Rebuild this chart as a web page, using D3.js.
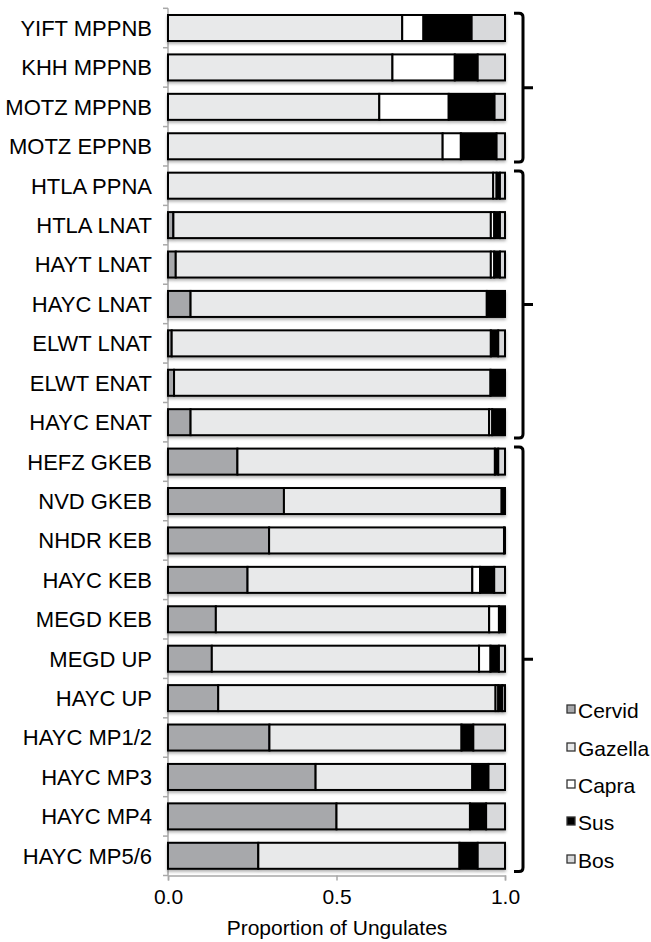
<!DOCTYPE html>
<html><head><meta charset="utf-8">
<script src="https://cdn.jsdelivr.net/npm/d3@7"></script>
<style>
body{margin:0;background:#fff;}
text{font-family:"Liberation Sans",Arial,Helvetica,sans-serif;fill:#000;}
</style></head>
<body>
<svg id="chart" width="651" height="942"></svg>
<script>
const sites = ["YIFT MPPNB","KHH MPPNB","MOTZ MPPNB","MOTZ EPPNB","HTLA PPNA","HTLA LNAT","HAYT LNAT","HAYC LNAT","ELWT LNAT","ELWT ENAT","HAYC ENAT","HEFZ GKEB","NVD GKEB","NHDR KEB","HAYC KEB","MEGD KEB","MEGD UP","HAYC UP","HAYC MP1/2","HAYC MP3","HAYC MP4","HAYC MP5/6"];
const taxa = ["Cervid","Gazella","Capra","Sus","Bos"];
const cervid  = [0.000,0.000,0.000,0.000,0.000,0.016,0.023,0.067,0.011,0.018,0.067,0.206,0.344,0.300,0.236,0.142,0.130,0.149,0.301,0.438,0.500,0.268];
const gazella = [0.695,0.666,0.627,0.815,0.965,0.942,0.935,0.879,0.947,0.939,0.886,0.764,0.646,0.697,0.667,0.811,0.793,0.823,0.570,0.465,0.396,0.597];
const capra   = [0.063,0.185,0.206,0.054,0.010,0.010,0.010,0.000,0.000,0.000,0.009,0.000,0.000,0.000,0.023,0.029,0.034,0.008,0.000,0.000,0.000,0.000];
const sus     = [0.143,0.068,0.136,0.106,0.010,0.017,0.017,0.054,0.022,0.043,0.038,0.010,0.010,0.003,0.042,0.018,0.025,0.012,0.035,0.048,0.048,0.054];
const bos     = [0.099,0.081,0.031,0.025,0.015,0.015,0.015,0.000,0.020,0.000,0.000,0.020,0.000,0.000,0.032,0.000,0.018,0.008,0.094,0.049,0.056,0.081];
const xTicks = [0, 0.5, 1.0];
const xTickLabels = ["0.0","0.5","1.0"];
const groups = [{start:0,end:3},{start:4,end:10},{start:11,end:21}];
const colors = {Cervid:"#a7a8ab",Gazella:"#e8e9ea",Capra:"#ffffff",Sus:"#000000",Bos:"#d8d9db"};
const series = {Cervid:cervid,Gazella:gazella,Capra:capra,Sus:sus,Bos:bos};

const svg = d3.select("#chart");
const defs = svg.append("defs");
const f = defs.append("filter").attr("id","sh").attr("x","-5%").attr("y","-30%").attr("width","110%").attr("height","170%");
f.append("feDropShadow").attr("dx",0).attr("dy",2).attr("stdDeviation",1.6).attr("flood-color","#000").attr("flood-opacity",0.3);

const x = d3.scaleLinear().domain([0,1]).range([168,505]);
const y = d3.scaleBand().domain(sites).range([8.3,875.5]).paddingInner(0.34).paddingOuter(0.17);

const rows = sites.map((s,i)=>{ const r={site:s}; taxa.forEach(t=>r[t]=series[t][i]); return r; });
const stacked = d3.stack().keys(taxa)(rows);

// left axis (category boundaries)
const step = y.step();
const y0 = y.range()[0];
const gy = svg.append("g");
gy.append("line").attr("x1",168).attr("x2",168).attr("y1",y0).attr("y2",y0+step*sites.length).attr("stroke","#a8a8a8").attr("stroke-width",1.5);
d3.range(sites.length+1).forEach(k=>{
  gy.append("line").attr("x1",163).attr("x2",168).attr("y1",y0+k*step).attr("y2",y0+k*step).attr("stroke","#a8a8a8").attr("stroke-width",1.5);
});
gy.selectAll("text.lab").data(sites).enter().append("text").attr("class","lab")
  .attr("x",152).attr("y",d=>y(d)+y.bandwidth()/2).attr("dy","0.36em")
  .attr("text-anchor","end").attr("font-size",22).text(d=>d);

// bottom axis
const axisY = y0+step*sites.length;
const gx = svg.append("g").attr("transform",`translate(0,${axisY})`)
  .call(d3.axisBottom(x).tickValues(xTicks).tickFormat((d,i)=>xTickLabels[i]).tickSize(5).tickPadding(9));
gx.select(".domain").attr("stroke","#a8a8a8").attr("stroke-width",1.5);
gx.selectAll(".tick line").attr("stroke","#a8a8a8").attr("stroke-width",1.5);
gx.selectAll(".tick text").attr("font-size",21).attr("font-family","Liberation Sans, Arial, sans-serif").attr("fill","#000");
svg.append("text").attr("x",337).attr("y",935).attr("text-anchor","middle").attr("font-size",21).text("Proportion of Ungulates");

// bars
const gb = svg.append("g");
rows.forEach((r,i)=>{
  const g = gb.append("g").attr("filter","url(#sh)");
  stacked.forEach(layer=>{
    const d = layer[i];
    if (d[1]-d[0] <= 0) return;
    g.append("rect").attr("x",x(d[0])).attr("width",x(d[1])-x(d[0]))
      .attr("y",y(r.site)).attr("height",y.bandwidth())
      .attr("fill",colors[layer.key]).attr("stroke","#000").attr("stroke-width",2);
  });
});

// brackets
const bx = 523;
groups.forEach(gr=>{
  const top = y0 + gr.start*step + 5;
  const bot = y0 + (gr.end+1)*step - 4;
  const mid = (top+bot)/2;
  svg.append("path").attr("d",`M514,${top} H519 Q${bx},${top} ${bx},${top+4} V${bot-4} Q${bx},${bot} 519,${bot} H514 M${bx},${mid} H533`)
    .attr("fill","none").attr("stroke","#000").attr("stroke-width",3);
});

// legend
const legY = [710,748,785,822,860];
const lg = svg.append("g");
taxa.forEach((t,i)=>{
  lg.append("rect").attr("x",567).attr("y",legY[i]-5).attr("width",8).attr("height",8)
    .attr("fill",colors[t]).attr("stroke","#333").attr("stroke-width",1.3);
  lg.append("text").attr("x",578).attr("y",legY[i]).attr("dy","0.36em").attr("font-size",21).text(t);
});
</script>
</body></html>
